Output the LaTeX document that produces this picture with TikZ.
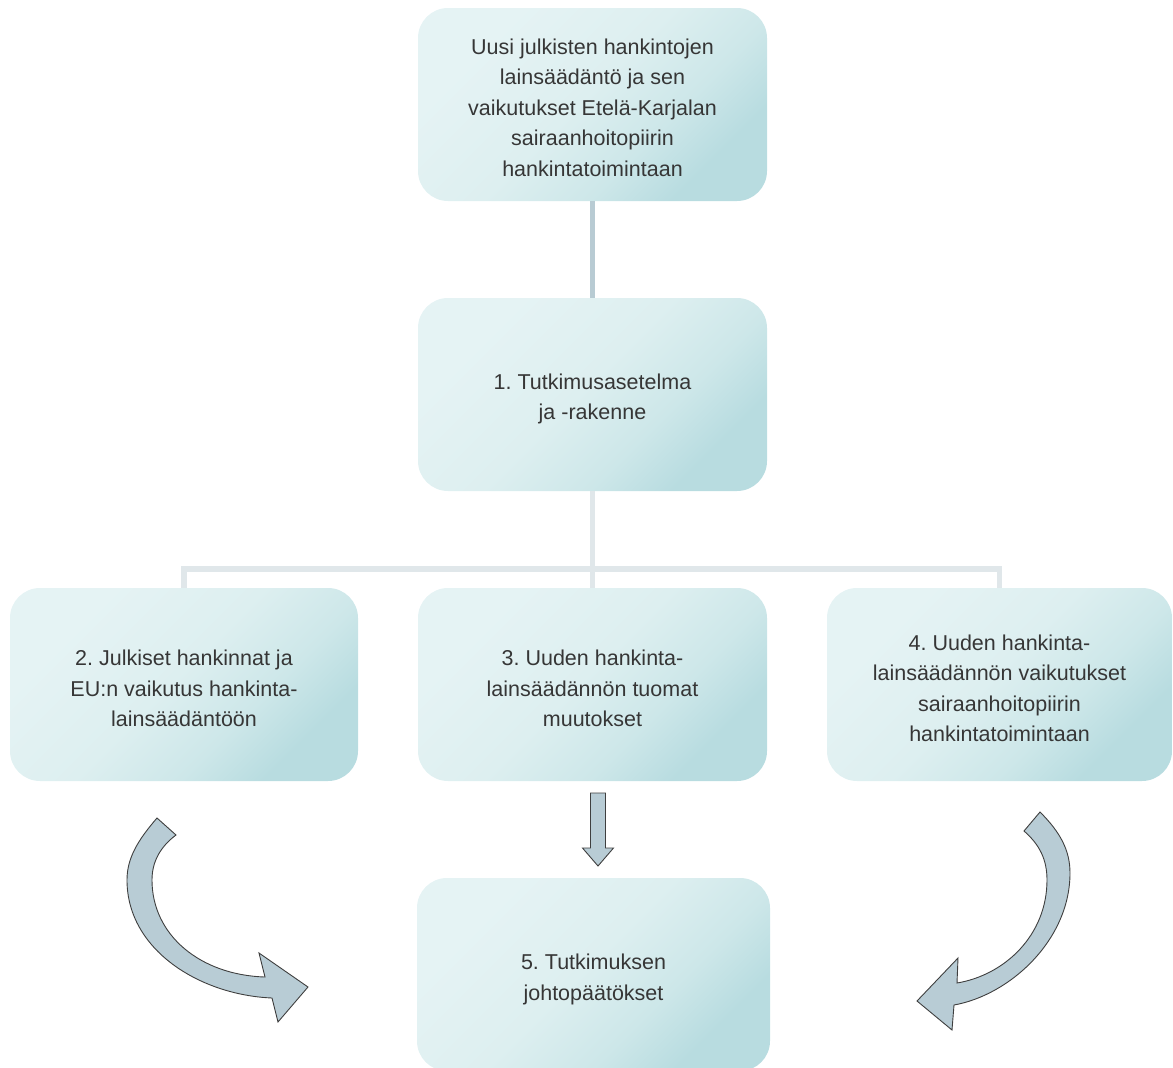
\documentclass[tikz,border=0pt]{standalone}
\usepackage{fontspec}
\setmainfont{Liberation Sans}
\frenchspacing
\definecolor{boxlight}{HTML}{E5F3F4}
\definecolor{boxmid}{HTML}{DDEFF0}
\definecolor{boxmd}{HTML}{CDE7E9}
\definecolor{boxdark}{HTML}{B8DCE0}
\definecolor{txt}{HTML}{363636}
\definecolor{connA}{HTML}{B8CBD3}
\definecolor{connB}{HTML}{E0E7EA}
\definecolor{arrfill}{HTML}{B8CCD5}
\definecolor{arrline}{HTML}{3F3F3F}
\pgfdeclareverticalshading{boxshade}{100bp}{color(0bp)=(boxdark); color(27bp)=(boxdark); color(38bp)=(boxmd); color(52bp)=(boxmid); color(72bp)=(boxlight); color(100bp)=(boxlight)}
\begin{document}
\begin{tikzpicture}[x=1pt,y=-1pt,
  box/.style={rounded corners=30pt, minimum width=349pt, minimum height=193pt,
    inner sep=0pt, shading=boxshade, shading angle=45},
  boxtext/.style={align=center, text=txt, inner sep=0pt,
    font=\fontsize{21.5}{30.5}\selectfont},
  connA/.style={draw=connA, line width=5pt},
  connB/.style={draw=connB, line width=5.5pt},
  bigarrow/.style={fill=arrfill, draw=arrline, line width=0.9pt, line join=miter}]
\useasboundingbox (0,0) rectangle (1173,1068);

\node[box] (top) at (592.5,104.5) {};
\node[boxtext] (topt) at ([yshift=-3pt]top.center) {Uusi julkisten hankintojen\\lainsäädäntö ja sen\\vaikutukset Etelä-Karjalan\\sairaanhoitopiirin\\hankintatoimintaan};
\node[box] (b1) at (592.5,394.5) {};
\node[boxtext] (b1t) at ([yshift=-4.5pt]b1.center) {1. Tutkimusasetelma\\ja -rakenne};
\node[box, minimum width=348pt] (b2) at (184,684.5) {};
\node[boxtext] (b2t) at ([yshift=-4pt]b2.center) {2. Julkiset hankinnat ja\\EU:n vaikutus hankinta-\\lainsäädäntöön};
\node[box] (b3) at (592.5,684.5) {};
\node[boxtext] (b3t) at ([yshift=-4pt]b3.center) {3. Uuden hankinta-\\lainsäädännön tuomat\\muutokset};
\node[box, minimum width=345pt] (b4) at (999.5,684.5) {};
\node[boxtext] (b4t) at ([yshift=-4pt]b4.center) {4. Uuden hankinta-\\lainsäädännön vaikutukset\\sairaanhoitopiirin\\hankintatoimintaan};
\node[box, minimum width=353pt] (b5) at (593.5,974.5) {};
\node[boxtext] (b5t) at ([yshift=-5pt]b5.center) {5. Tutkimuksen\\johtopäätökset};

\draw[connA] (top.south) -- (b1.north);

\coordinate (j) at (592.5,569);
\draw[connB] (b1.south) -- (b3.north);
\draw[connB, line join=miter] (j) -| (b2.north);
\draw[connB, line join=miter] (j) -| (b4.north);

% straight down arrow
\draw[bigarrow] (590.5,793) -- (605.5,793) -- (605.5,848) -- (613.5,848) -- (598,866)
  -- (582.5,848) -- (590.5,848) -- cycle;

% left curved arrow
\draw[bigarrow] (157,818) .. controls (138,840) and (127,858) .. (127,880)
  .. controls (127,950) and (200,995) .. (272,998)
  -- (278,1022) -- (308,987) -- (259,953) -- (265,977)
  .. controls (200,975) and (152,935) .. (152,880)
  .. controls (152,862) and (160,847) .. (176,835) -- cycle;

% right curved arrow
\draw[bigarrow] (1040,812) .. controls (1060,832) and (1070,850) .. (1070,873)
  .. controls (1070,940) and (1010,995) .. (954,1005)
  -- (952,1030) -- (917,1001) -- (958,958) -- (957,983)
  .. controls (1005,975) and (1047,935) .. (1047,880)
  .. controls (1047,860) and (1040,845) .. (1024,831) -- cycle;
\end{tikzpicture}
\end{document}
